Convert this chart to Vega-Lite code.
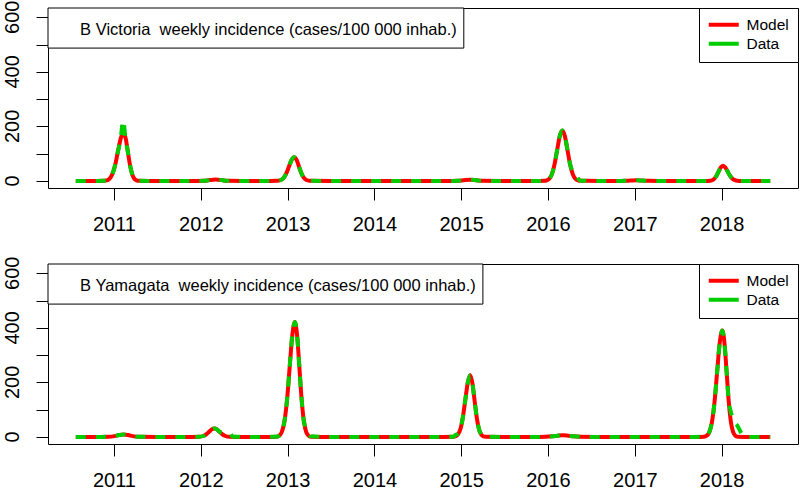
{
"$schema":"https://vega.github.io/schema/vega-lite/v6.json",
"padding":{"left":2,"top":0,"right":2,"bottom":0},
"background":"white",
"config":{"font":"Liberation Sans","view":{"stroke":"black","strokeWidth":1},
"axis":{"title":null,"grid":false,"domain":false,"tickColor":"black","labelColor":"black","tickSize":12,"labelFontSize":20,"labelFont":"Liberation Sans"},
"axisY":{"labels":false},
"axisX":{"labelPadding":14,"labelFlush":false,"labelOverlap":false},
"legend":{"orient":"top-right","offset":0,"title":null,"strokeColor":"black","fillColor":"white","padding":9,"labelFontSize":15.5,"symbolType":"M-1.4,0H4.6","symbolSize":100,"symbolStrokeWidth":4,"labelOffset":23,"rowPadding":1,"labelColor":"black","cornerRadius":0}},
"datasets":{
"ticks":[{"lab":0},{"lab":200},{"lab":400},{"lab":600}],
"v":[
{"t":2010.56,"m":0,"d":0},{"t":2010.8,"m":0,"d":0},{"t":2010.883,"m":0.4,"d":0.4},{"t":2010.915,"m":2,"d":2},{"t":2010.948,"m":7.8,"d":7.8},{"t":2010.98,"m":24,"d":24},{"t":2011.013,"m":57.5,"d":57.5},{"t":2011.045,"m":107,"d":107},{"t":2011.078,"m":156,"d":156},{"t":2011.105,"m":null,"d":222},{"t":2011.11,"m":177,"d":null},{"t":2011.135,"m":156,"d":150},{"t":2011.16,"m":107,"d":107},{"t":2011.185,"m":57.5,"d":57.5},{"t":2011.21,"m":24,"d":24},{"t":2011.235,"m":7.8,"d":7.8},{"t":2011.26,"m":2,"d":2},{"t":2011.285,"m":0.4,"d":0.4},{"t":2011.4,"m":0,"d":0},{"t":2011.9,"m":0,"d":0},
{"t":2012.03,"m":0.3,"d":0.3},{"t":2012.1,"m":3,"d":3},{"t":2012.17,"m":5,"d":5},{"t":2012.24,"m":3,"d":3},{"t":2012.31,"m":0.3,"d":0.3},{"t":2012.5,"m":0,"d":0},{"t":2012.8,"m":0,"d":0},
{"t":2012.866,"m":0.2,"d":0.2},{"t":2012.896,"m":1,"d":1},{"t":2012.926,"m":3.8,"d":3.8},{"t":2012.956,"m":11.8,"d":11.8},{"t":2012.986,"m":28.2,"d":28.2},{"t":2013.016,"m":52.8,"d":52.8},{"t":2013.046,"m":76.8,"d":76.8},{"t":2013.076,"m":87,"d":87},{"t":2013.104,"m":76.8,"d":76.8},{"t":2013.131,"m":52.8,"d":52.8},{"t":2013.159,"m":28.2,"d":28.2},{"t":2013.186,"m":11.8,"d":11.8},{"t":2013.214,"m":3.8,"d":3.8},{"t":2013.241,"m":1,"d":1},{"t":2013.269,"m":0.2,"d":0.2},{"t":2013.5,"m":0,"d":0},{"t":2014.9,"m":0,"d":0},
{"t":2014.96,"m":0.3,"d":0.3},{"t":2015.03,"m":2.4,"d":2.4},{"t":2015.1,"m":4,"d":4},{"t":2015.17,"m":2.4,"d":2.4},{"t":2015.24,"m":0.3,"d":0.3},{"t":2015.5,"m":0,"d":0},{"t":2015.9,"m":0,"d":0},
{"t":2015.955,"m":0.4,"d":0.4},{"t":2015.985,"m":2.1,"d":2.1},{"t":2016.015,"m":8.1,"d":8.1},{"t":2016.045,"m":25,"d":25},{"t":2016.075,"m":60.1,"d":60.1},{"t":2016.105,"m":112.2,"d":112.2},{"t":2016.135,"m":163.3,"d":163.3},{"t":2016.165,"m":185,"d":185},{"t":2016.195,"m":163.3,"d":163.3},{"t":2016.225,"m":112.2,"d":112.2},{"t":2016.255,"m":60.1,"d":60.1},{"t":2016.285,"m":25,"d":35},{"t":2016.315,"m":8.1,"d":28},{"t":2016.345,"m":2.1,"d":10},{"t":2016.375,"m":0.4,"d":1},{"t":2016.6,"m":0,"d":0},{"t":2016.85,"m":0,"d":0},
{"t":2016.88,"m":0.2,"d":0.2},{"t":2016.95,"m":1.2,"d":1.2},{"t":2017.02,"m":2,"d":2},{"t":2017.09,"m":1.2,"d":1.2},{"t":2017.16,"m":0.2,"d":0.2},{"t":2017.4,"m":0,"d":0},{"t":2017.8,"m":0,"d":0},
{"t":2017.84,"m":0.1,"d":0.1},{"t":2017.865,"m":0.6,"d":0.6},{"t":2017.89,"m":2.5,"d":2.5},{"t":2017.915,"m":7.6,"d":7.6},{"t":2017.94,"m":18.2,"d":18.2},{"t":2017.965,"m":34,"d":34},{"t":2017.99,"m":49.4,"d":49.4},{"t":2018.015,"m":56,"d":56},{"t":2018.043,"m":49.4,"d":49.4},{"t":2018.07,"m":34,"d":34},{"t":2018.098,"m":18.2,"d":18.2},{"t":2018.125,"m":7.6,"d":7.6},{"t":2018.153,"m":2.5,"d":2.5},{"t":2018.18,"m":0.6,"d":0.6},{"t":2018.208,"m":0.1,"d":0.1},{"t":2018.35,"m":0,"d":0},{"t":2018.56,"m":0,"d":0}
],
"y":[
{"t":2010.56,"m":0,"d":0},{"t":2010.85,"m":0,"d":0},{"t":2010.935,"m":0.4,"d":0.4},{"t":2011.005,"m":2.9,"d":2.9},{"t":2011.058,"m":6.8,"d":6.8},{"t":2011.11,"m":9,"d":9},{"t":2011.163,"m":6.8,"d":6.8},{"t":2011.215,"m":2.9,"d":2.9},{"t":2011.285,"m":0.4,"d":0.4},{"t":2011.5,"m":0,"d":0},{"t":2011.9,"m":0,"d":0},
{"t":2011.976,"m":0.3,"d":0.3},{"t":2012.036,"m":4.2,"d":4.2},{"t":2012.066,"m":10.1,"d":10.1},{"t":2012.096,"m":18.8,"d":18.8},{"t":2012.126,"m":27.4,"d":27.4},{"t":2012.156,"m":31,"d":31},{"t":2012.186,"m":27.4,"d":27.4},{"t":2012.216,"m":18.8,"d":18.8},{"t":2012.246,"m":10.1,"d":15},{"t":2012.276,"m":4.2,"d":15.5},{"t":2012.306,"m":null,"d":16},{"t":2012.336,"m":0.3,"d":13},{"t":2012.37,"m":null,"d":1},{"t":2012.5,"m":0,"d":0},{"t":2012.75,"m":0,"d":0},
{"t":2012.874,"m":0.9,"d":0.9},{"t":2012.904,"m":4.7,"d":4.7},{"t":2012.934,"m":18.5,"d":18.5},{"t":2012.964,"m":57,"d":57},{"t":2012.994,"m":136.7,"d":136.7},{"t":2013.024,"m":255.3,"d":255.3},{"t":2013.054,"m":371.5,"d":371.5},{"t":2013.084,"m":421,"d":421},{"t":2013.11,"m":371.5,"d":371.5},{"t":2013.136,"m":255.3,"d":255.3},{"t":2013.162,"m":136.7,"d":136.7},{"t":2013.188,"m":57,"d":57},{"t":2013.214,"m":18.5,"d":32},{"t":2013.24,"m":4.7,"d":20},{"t":2013.266,"m":0.9,"d":2},{"t":2013.5,"m":0,"d":0},{"t":2014.8,"m":0,"d":0},
{"t":2014.91,"m":0.5,"d":0.5},{"t":2014.938,"m":2.5,"d":8},{"t":2014.965,"m":9.9,"d":12},{"t":2014.993,"m":30.6,"d":30.6},{"t":2015.02,"m":73.4,"d":73.4},{"t":2015.048,"m":137.1,"d":137.1},{"t":2015.076,"m":199.4,"d":199.4},{"t":2015.103,"m":226,"d":226},{"t":2015.128,"m":199.4,"d":199.4},{"t":2015.153,"m":137.1,"d":137.1},{"t":2015.178,"m":73.4,"d":73.4},{"t":2015.203,"m":30.6,"d":30.6},{"t":2015.228,"m":9.9,"d":9.9},{"t":2015.253,"m":2.5,"d":2.5},{"t":2015.278,"m":0.5,"d":0.5},{"t":2015.5,"m":0,"d":0},{"t":2015.9,"m":0,"d":0},
{"t":2015.97,"m":0.3,"d":0.3},{"t":2016.05,"m":2.1,"d":2.1},{"t":2016.11,"m":4.5,"d":4.5},{"t":2016.17,"m":6,"d":6},{"t":2016.23,"m":4.5,"d":4.5},{"t":2016.29,"m":2.1,"d":2.1},{"t":2016.37,"m":0.3,"d":0.3},{"t":2016.6,"m":0,"d":0},{"t":2017.7,"m":0,"d":0},
{"t":2017.798,"m":0.9,"d":0.9},{"t":2017.828,"m":4.3,"d":4.3},{"t":2017.858,"m":17.1,"d":17.1},{"t":2017.888,"m":52.8,"d":52.8},{"t":2017.918,"m":126.6,"d":126.6},{"t":2017.948,"m":236.5,"d":236.5},{"t":2017.978,"m":344.2,"d":344.2},{"t":2018.008,"m":390,"d":390},{"t":2018.033,"m":344.2,"d":344.2},{"t":2018.058,"m":236.5,"d":236.5},{"t":2018.083,"m":126.6,"d":130},{"t":2018.108,"m":52.8,"d":90},{"t":2018.133,"m":17.1,"d":66},{"t":2018.158,"m":4.3,"d":50},{"t":2018.183,"m":0.9,"d":40},{"t":2018.21,"m":null,"d":24},{"t":2018.235,"m":null,"d":10},{"t":2018.26,"m":null,"d":1},{"t":2018.35,"m":0,"d":0},{"t":2018.56,"m":0,"d":0}
]
},
"bounds":"flush",
"spacing":76,
"resolve":{"legend":{"color":"independent"},"scale":{"color":"independent"}},
"vconcat":[
{"width":750,"height":180,"data":{"name":"v"},
"layer":[
{"transform":[{"filter":"datum.m != null"}],"mark":{"type":"line","strokeWidth":4,"interpolate":"monotone","strokeCap":"butt"},
"encoding":{
"x":{"field":"t","type":"quantitative","scale":{"domain":[2010.24,2018.88],"nice":false,"zero":false},"axis":{"values":[2011,2012,2013,2014,2015,2016,2017,2018],"format":"d"}},
"y":{"field":"m","type":"quantitative","scale":{"domain":[-26,634],"nice":false,"zero":false},"axis":{"values":[0,100,200,300,400,500,600],"labels":false}},
"color":{"datum":"Model","type":"nominal","scale":{"domain":["Model","Data"],"range":["#ff0000","#00cd00"]}}}},
{"transform":[{"filter":"datum.d != null"}],"mark":{"type":"line","strokeWidth":4,"interpolate":"monotone","strokeDash":[10,10],"strokeCap":"butt"},
"encoding":{"x":{"field":"t","type":"quantitative","axis":{"values":[2011,2012,2013,2014,2015,2016,2017,2018],"format":"d"}},"y":{"field":"d","type":"quantitative","axis":{"values":[0,100,200,300,400,500,600],"labels":false}},"color":{"datum":"Data","type":"nominal"}}},
{"data":{"name":"ticks"},"mark":{"type":"text","angle":270,"align":"center","baseline":"alphabetic","fontSize":20,"color":"black"},"encoding":{"x":{"datum":2009.906,"type":"quantitative","axis":{"values":[2011,2012,2013,2014,2015,2016,2017,2018],"format":"d"}},"y":{"field":"lab","type":"quantitative","axis":{"values":[0,100,200,300,400,500,600],"labels":false}},"text":{"field":"lab","type":"quantitative"}}},
{"data":{"values":[{}]},"mark":{"type":"rect","fill":"white","stroke":"black","strokeWidth":1},"encoding":{"x":{"datum":2010.24,"type":"quantitative","axis":{"values":[2011,2012,2013,2014,2015,2016,2017,2018],"format":"d"}},"x2":{"datum":2015.03},"y":{"datum":634,"type":"quantitative","axis":{"values":[0,100,200,300,400,500,600],"labels":false}},"y2":{"datum":487}}},
{"data":{"values":[{}]},"mark":{"type":"text","align":"left","baseline":"middle","fontSize":16.5,"color":"black"},"encoding":{"x":{"datum":2010.61,"type":"quantitative","axis":{"values":[2011,2012,2013,2014,2015,2016,2017,2018],"format":"d"}},"y":{"datum":554,"type":"quantitative","axis":{"values":[0,100,200,300,400,500,600],"labels":false}},"text":{"value":"B Victoria\u00a0 weekly incidence (cases/100 000 inhab.)"}}}
]},
{"width":750,"height":180,"data":{"name":"y"},
"layer":[
{"transform":[{"filter":"datum.m != null"}],"mark":{"type":"line","strokeWidth":4,"interpolate":"monotone","strokeCap":"butt"},
"encoding":{
"x":{"field":"t","type":"quantitative","scale":{"domain":[2010.24,2018.88],"nice":false,"zero":false},"axis":{"values":[2011,2012,2013,2014,2015,2016,2017,2018],"format":"d"}},
"y":{"field":"m","type":"quantitative","scale":{"domain":[-26,634],"nice":false,"zero":false},"axis":{"values":[0,100,200,300,400,500,600],"labels":false}},
"color":{"datum":"Model","type":"nominal","scale":{"domain":["Model","Data"],"range":["#ff0000","#00cd00"]}}}},
{"transform":[{"filter":"datum.d != null"}],"mark":{"type":"line","strokeWidth":4,"interpolate":"monotone","strokeDash":[10,10],"strokeCap":"butt"},
"encoding":{"x":{"field":"t","type":"quantitative","axis":{"values":[2011,2012,2013,2014,2015,2016,2017,2018],"format":"d"}},"y":{"field":"d","type":"quantitative","axis":{"values":[0,100,200,300,400,500,600],"labels":false}},"color":{"datum":"Data","type":"nominal"}}},
{"data":{"name":"ticks"},"mark":{"type":"text","angle":270,"align":"center","baseline":"alphabetic","fontSize":20,"color":"black"},"encoding":{"x":{"datum":2009.906,"type":"quantitative","axis":{"values":[2011,2012,2013,2014,2015,2016,2017,2018],"format":"d"}},"y":{"field":"lab","type":"quantitative","axis":{"values":[0,100,200,300,400,500,600],"labels":false}},"text":{"field":"lab","type":"quantitative"}}},
{"data":{"values":[{}]},"mark":{"type":"rect","fill":"white","stroke":"black","strokeWidth":1},"encoding":{"x":{"datum":2010.24,"type":"quantitative","axis":{"values":[2011,2012,2013,2014,2015,2016,2017,2018],"format":"d"}},"x2":{"datum":2015.25},"y":{"datum":634,"type":"quantitative","axis":{"values":[0,100,200,300,400,500,600],"labels":false}},"y2":{"datum":487}}},
{"data":{"values":[{}]},"mark":{"type":"text","align":"left","baseline":"middle","fontSize":16.5,"color":"black"},"encoding":{"x":{"datum":2010.61,"type":"quantitative","axis":{"values":[2011,2012,2013,2014,2015,2016,2017,2018],"format":"d"}},"y":{"datum":554,"type":"quantitative","axis":{"values":[0,100,200,300,400,500,600],"labels":false}},"text":{"value":"B Yamagata\u00a0 weekly incidence (cases/100 000 inhab.)"}}}
]}
]
}
